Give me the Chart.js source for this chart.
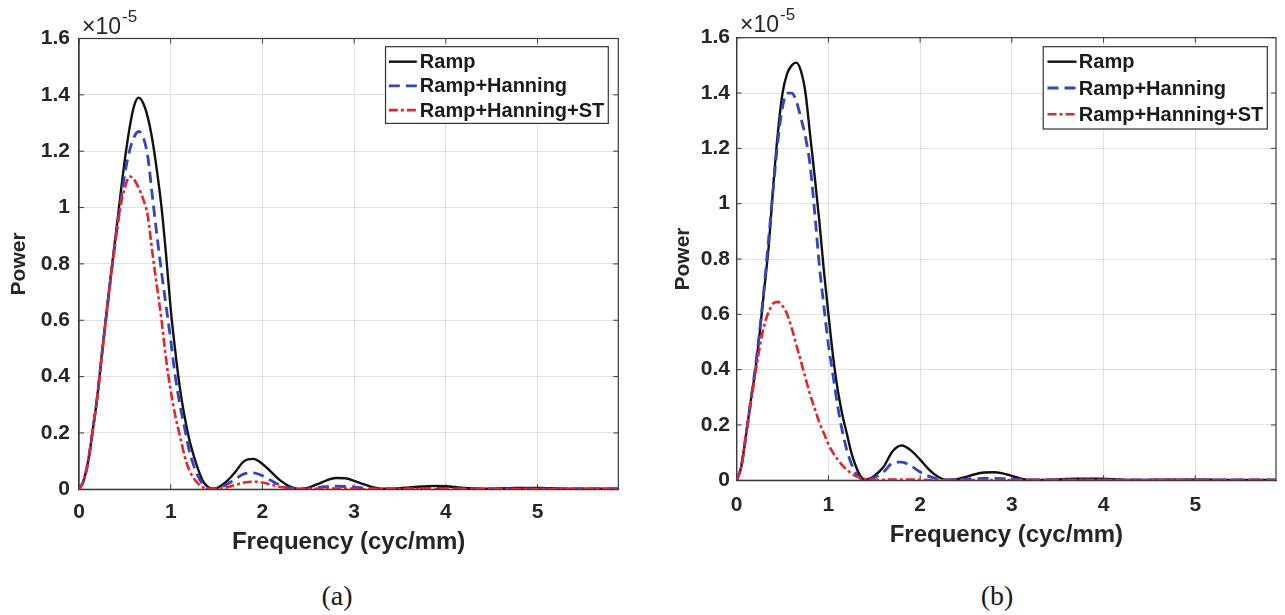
<!DOCTYPE html>
<html>
<head>
<meta charset="utf-8">
<script src="https://cdn.jsdelivr.net/npm/chart.js@4.4.1/dist/chart.umd.min.js"></script>
<style>
  html, body { margin: 0; padding: 0; background: #ffffff; }
  body { width: 1285px; height: 615px; position: relative; overflow: hidden; }
  .wrap { position: absolute; top: 0; }
  .sub { position: absolute; transform: translate(-50%, -50%); font: 28px "Liberation Serif", "Times New Roman", serif; color: #1a1a1a; white-space: nowrap; }
</style>
</head>
<body>
<div class="wrap" style="left:0px;"><canvas id="chartA" width="640" height="570"></canvas></div>
<div class="wrap" style="left:640px;"><canvas id="chartB" width="645" height="570"></canvas></div>
<div class="sub" style="left:337px; top:596px;">(a)</div>
<div class="sub" style="left:997px; top:596px;">(b)</div>
<script>
// ---------------- DATA (power values in units of 1e-5) ----------------
const seriesNames = ['Ramp', 'Ramp+Hanning', 'Ramp+Hanning+ST'];
const xTickValues = [0, 1, 2, 3, 4, 5];
const yTickValues = [0, 0.2, 0.4, 0.6, 0.8, 1, 1.2, 1.4, 1.6];
const yTickLabels = ['0', '0.2', '0.4', '0.6', '0.8', '1', '1.2', '1.4', '1.6'];
const exponentLabel = '-5';
const xTitle = 'Frequency (cyc/mm)';
const yTitle = 'Power';

const freq = [0,0.05,0.1,0.15,0.2,0.25,0.3,0.35,0.4,0.45,0.5,0.55,0.6,0.65,0.7,0.75,0.8,0.85,0.9,0.95,
  1.0,1.05,1.1,1.15,1.2,1.25,1.3,1.35,1.4,1.45,1.5,
  1.6,1.7,1.8,1.9,2.0,2.1,2.2,2.3,2.4,2.5,2.6,2.7,2.8,2.9,3.0,3.1,3.2,3.3,3.4,3.5,
  3.6,3.7,3.8,3.9,4.0,4.1,4.2,4.3,4.4,4.5,4.6,4.7,4.8,4.9,5.0,5.1,5.2,5.3,5.4,5.5,5.6,5.7,5.8,5.88];

// (a)
const aRamp = [0,0.03,0.10,0.21,0.33,0.48,0.63,0.77,0.90,1.04,1.17,1.28,1.36,1.39,1.37,1.32,1.24,1.13,1.00,0.83,
  0.64,0.49,0.36,0.26,0.18,0.12,0.07,0.03,0.01,0.002,0.004,
  0.025,0.06,0.10,0.108,0.09,0.06,0.03,0.01,0.001,0.006,0.018,0.032,0.04,0.039,0.03,0.018,0.008,0.002,0.002,0.004,
  0.007,0.009,0.011,0.012,0.011,0.008,0.005,0.003,0.002,0.002,0.003,0.004,0.005,0.005,0.005,0.004,0.003,0.002,0.002,0.002,0.002,0.002,0.002,0.002];
const aHann = [0,0.03,0.10,0.21,0.33,0.48,0.62,0.76,0.89,1.01,1.12,1.20,1.25,1.27,1.25,1.18,1.04,0.90,0.77,0.65,
  0.53,0.40,0.30,0.22,0.14,0.085,0.045,0.018,0.005,0.001,0.003,
  0.015,0.035,0.055,0.058,0.048,0.03,0.014,0.004,0.001,0.002,0.006,0.009,0.011,0.01,0.008,0.005,0.002,0.001,0.001,0.001,
  0.002,0.002,0.003,0.003,0.003,0.002,0.002,0.001,0.001,0.001,0.001,0.001,0.001,0.001,0.001,0.001,0.001,0.001,0.001,0.001,0.001,0.001,0.001,0.001];
const aHannST = [0,0.03,0.10,0.21,0.33,0.48,0.62,0.76,0.89,1.00,1.07,1.11,1.10,1.07,1.03,0.97,0.84,0.72,0.60,0.46,
  0.35,0.26,0.19,0.12,0.07,0.04,0.02,0.007,0.002,0.001,0.002,
  0.006,0.015,0.024,0.027,0.024,0.016,0.008,0.003,0.001,0.001,0.002,0.003,0.003,0.003,0.002,0.001,0.001,0.001,0.001,0.001,
  0.001,0.001,0.001,0.001,0.001,0.001,0.001,0.001,0.001,0.001,0.001,0.001,0.001,0.001,0.001,0.001,0.001,0.001,0.001,0.001,0.001,0.001,0.001,0.001];

// (b)
const bRamp = [0,0.05,0.16,0.28,0.39,0.53,0.69,0.85,1.07,1.26,1.40,1.47,1.50,1.51,1.48,1.40,1.25,1.10,0.94,0.76,
  0.60,0.45,0.33,0.24,0.17,0.10,0.05,0.015,0.002,0.006,0.016,
  0.048,0.105,0.126,0.108,0.075,0.038,0.012,0.001,0.004,0.012,0.022,0.028,0.029,0.025,0.016,0.006,0.001,0.001,0.002,0.003,
  0.005,0.006,0.006,0.006,0.005,0.004,0.002,0.001,0.001,0.001,0.002,0.002,0.002,0.002,0.002,0.002,0.002,0.001,0.001,0.001,0.001,0.001,0.001,0.001];
const bHann = [0,0.05,0.16,0.28,0.40,0.54,0.70,0.88,1.06,1.23,1.35,1.40,1.40,1.37,1.31,1.24,1.14,0.97,0.78,0.63,
  0.49,0.38,0.27,0.18,0.11,0.06,0.025,0.006,0.001,0.003,0.01,
  0.03,0.062,0.066,0.052,0.03,0.014,0.004,0.001,0.002,0.004,0.006,0.007,0.007,0.006,0.004,0.002,0.001,0.001,0.001,0.001,
  0.001,0.001,0.001,0.001,0.001,0.001,0.001,0.001,0.001,0.001,0.001,0.001,0.001,0.001,0.001,0.001,0.001,0.001,0.001,0.001,0.001,0.001,0.001,0.001];
const bHannST = [0,0.05,0.16,0.27,0.38,0.48,0.56,0.61,0.64,0.645,0.63,0.60,0.55,0.49,0.43,0.37,0.31,0.26,0.21,0.17,
  0.13,0.10,0.075,0.055,0.038,0.025,0.015,0.009,0.005,0.003,0.002,
  0.002,0.003,0.003,0.003,0.002,0.001,0.001,0.001,0.001,0.001,0.001,0.001,0.001,0.001,0.001,0.001,0.001,0.001,0.001,0.001,
  0.001,0.001,0.001,0.001,0.001,0.001,0.001,0.001,0.001,0.001,0.001,0.001,0.001,0.001,0.001,0.001,0.001,0.001,0.001,0.001,0.001,0.001,0.001,0.001];

// ---------------- STYLE ----------------
const FONT = '"Liberation Sans", Arial, Helvetica, sans-serif';
const TEXT = '#262626';
const lineStyles = [
  { borderColor: '#111111', borderWidth: 2.4, borderDash: [], order: 2 },
  { borderColor: '#3244c0', borderWidth: 2.8, borderDash: [11, 6], order: 1 },
  { borderColor: '#e8232b', borderWidth: 2.6, borderDash: [9, 3, 3, 3], order: 0 }
];

function pts(ys) { return freq.map((f, i) => ({ x: f, y: ys[i] })); }

const framePlugin = {
  id: 'matlabFrame',
  beforeDatasetsDraw(chart) {
    const { ctx, chartArea: a, scales } = chart;
    const x = scales.x, y = scales.y;
    ctx.save();
    ctx.strokeStyle = '#3a3a3a';
    ctx.lineWidth = 1.2;
    ctx.strokeRect(a.left, a.top, a.right - a.left, a.bottom - a.top);
    ctx.lineWidth = 1;
    ctx.beginPath();
    xTickValues.forEach(v => {
      const px = x.getPixelForValue(v);
      ctx.moveTo(px, a.bottom); ctx.lineTo(px, a.bottom - 5);
      ctx.moveTo(px, a.top); ctx.lineTo(px, a.top + 5);
    });
    yTickValues.forEach(v => {
      const py = y.getPixelForValue(v);
      ctx.moveTo(a.left, py); ctx.lineTo(a.left + 5, py);
      ctx.moveTo(a.right, py); ctx.lineTo(a.right - 5, py);
    });
    ctx.stroke();
    ctx.restore();
  },
  afterDraw(chart, args, o) {
    const { ctx, chartArea: a } = chart;
    ctx.save();
    ctx.fillStyle = TEXT;
    ctx.textBaseline = 'alphabetic';
    ctx.textAlign = 'left';
    ctx.font = '23px ' + FONT;
    const bx = a.left + o.expDx, by = a.top - o.expDy;
    ctx.fillText('\u00d710', bx, by);
    const w = ctx.measureText('\u00d710').width;
    ctx.font = '17px ' + FONT;
    ctx.fillText(exponentLabel, bx + w + 1, by - 12);
    ctx.restore();
  }
};

const legendPlugin = {
  id: 'boxLegend',
  afterDraw(chart, args, o) {
    const { ctx, chartArea: a } = chart;
    const ds = chart.data.datasets;
    ctx.save();
    ctx.font = 'bold ' + o.fontSize + 'px ' + FONT;
    const tw = Math.max(...ds.map(d => ctx.measureText(d.label).width));
    const w = o.padL + o.lineLen + o.gap + tw + o.padR;
    const h = o.padT + o.rowGap * (ds.length - 1) + o.padB;
    const x0 = a.right - o.marginR - w, y0 = a.top + o.marginT;
    ctx.fillStyle = '#ffffff';
    ctx.fillRect(x0, y0, w, h);
    ctx.strokeStyle = '#333333';
    ctx.lineWidth = 1.2;
    ctx.strokeRect(x0, y0, w, h);
    ds.forEach((d, i) => {
      const cy = y0 + o.padT + i * o.rowGap;
      ctx.strokeStyle = d.borderColor;
      ctx.lineWidth = d.borderWidth;
      ctx.setLineDash(d.borderDash || []);
      ctx.beginPath();
      ctx.moveTo(x0 + o.padL, cy);
      ctx.lineTo(x0 + o.padL + o.lineLen, cy);
      ctx.stroke();
      ctx.setLineDash([]);
      ctx.fillStyle = '#1a1a1a';
      ctx.textBaseline = 'middle';
      ctx.textAlign = 'left';
      ctx.fillText(d.label, x0 + o.padL + o.lineLen + o.gap, cy + 1);
    });
    ctx.restore();
  }
};

function makeChart(id, series, L) {
  return new Chart(document.getElementById(id), {
    type: 'scatter',
    data: {
      datasets: series.map((s, i) => Object.assign({
        label: seriesNames[i],
        data: pts(s),
        showLine: true,
        pointRadius: 0,
        pointHoverRadius: 0,
        fill: false,
        cubicInterpolationMode: 'monotone',
        borderCapStyle: 'butt'
      }, lineStyles[i]))
    },
    options: {
      responsive: false,
      animation: false,
      devicePixelRatio: 1,
      layout: { padding: { left: 0, right: L.padRight, top: L.padTop, bottom: 0 } },
      plugins: {
        legend: { display: false },
        tooltip: { enabled: false },
        matlabFrame: { expDx: L.expDx, expDy: L.expDy },
        boxLegend: L.legend
      },
      scales: {
        x: {
          type: 'linear', min: 0, max: 5.88, bounds: 'data',
          afterBuildTicks: s => { s.ticks = xTickValues.map(v => ({ value: v })); },
          afterFit: s => { s.height = L.xH; },
          ticks: {
            autoSkip: false, maxRotation: 0, padding: L.xTickPad, color: TEXT,
            font: { family: FONT, size: 21, weight: 'bold' },
            callback: v => String(v)
          },
          grid: { color: '#e2e2e2', lineWidth: 1, drawTicks: false },
          border: { display: true, color: '#3a3a3a', width: 1.2 },
          title: {
            display: true, text: xTitle, color: TEXT,
            font: { family: FONT, size: 24, weight: 'bold' },
            padding: { top: 0, bottom: L.xTitlePad }
          }
        },
        y: {
          type: 'linear', min: 0, max: 1.6, bounds: 'data',
          afterBuildTicks: s => { s.ticks = yTickValues.map(v => ({ value: v })); },
          afterFit: s => { s.width = L.yW; },
          ticks: {
            padding: L.yTickPad, color: TEXT,
            font: { family: FONT, size: 21, weight: 'bold' },
            callback: (v, i) => yTickLabels[i]
          },
          grid: { color: '#e2e2e2', lineWidth: 1, drawTicks: false },
          border: { display: true, color: '#3a3a3a', width: 1.2 },
          title: {
            display: true, text: yTitle, color: TEXT,
            font: { family: FONT, size: 21, weight: 'bold' },
            padding: { top: L.yTitlePad, bottom: 0 }
          }
        }
      }
    },
    plugins: [framePlugin, legendPlugin]
  });
}

makeChart('chartA', [aRamp, aHann, aHannST], {
  padRight: 21.7, padTop: 38.5, xH: 80.7, yW: 79,
  xTickPad: 10, yTickPad: 9, xTitlePad: 13.6, yTitlePad: 6.4,
  expDx: 3, expDy: 5,
  legend: { fontSize: 20, padL: 3.3, lineLen: 28, gap: 3, padR: 4, padT: 15, rowGap: 24.2, padB: 13.3, marginR: 10, marginT: 8.2 }
});
makeChart('chartB', [bRamp, bHann, bHannST], {
  padRight: 9, padTop: 37.7, xH: 89.7, yW: 96.7,
  xTickPad: 12, yTickPad: 6.7, xTitlePad: 20, yTitlePad: 30.4,
  expDx: 3.3, expDy: 5.4,
  legend: { fontSize: 20, padL: 4.3, lineLen: 29, gap: 2.3, padR: 4, padT: 15, rowGap: 26.3, padB: 14.7, marginR: 8.7, marginT: 9 }
});
</script>
</body>
</html>
